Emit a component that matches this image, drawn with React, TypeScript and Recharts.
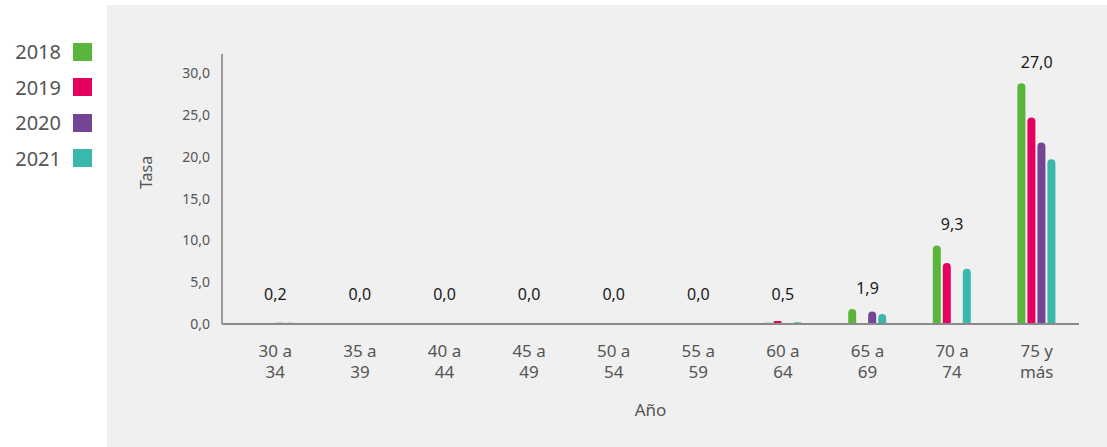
import { ComposedChart, Bar, Line, XAxis, YAxis, LabelList } from "recharts";

const categories = ["30 a 34", "35 a 39", "40 a 44", "45 a 49", "50 a 54", "55 a 59", "60 a 64", "65 a 69", "70 a 74", "75 y más"];
const s2018 = [0, 0, 0, 0, 0, 0, 0.15, 1.8, 9.4, 28.8];
const s2019 = [0, 0, 0, 0, 0, 0, 0.35, 0, 7.3, 24.7];
const s2020 = [0.15, 0, 0, 0, 0, 0, 0, 1.5, 0, 21.7];
const s2021 = [0.15, 0, 0, 0, 0, 0, 0.2, 1.2, 6.6, 19.7];
const groupLabels = ["0,2", "0,0", "0,0", "0,0", "0,0", "0,0", "0,5", "1,9", "9,3", "27,0"];
const yTicks = [0, 5, 10, 15, 20, 25, 30];

const series = [
  { key: "y2018", name: "2018", color: "#5ab53c" },
  { key: "y2019", name: "2019", color: "#e5005f" },
  { key: "y2020", name: "2020", color: "#744595" },
  { key: "y2021", name: "2021", color: "#3bb8ad" },
];

const data = categories.map((c, i) => ({
  name: c,
  y2018: s2018[i],
  y2019: s2019[i],
  y2020: s2020[i],
  y2021: s2021[i],
  // top of the tallest bar, used to place the group label
  top: Math.max(s2018[i], s2019[i], s2020[i], s2021[i]),
}));

const FONT = "'Noto Sans', sans-serif";
const BAR = 8;
const GAP = 2;

// two-line category tick: "30 a" / "34"
const CatTick = (props: any) => {
  const { x, y, payload } = props;
  const words = String(payload.value).split(" ");
  const first = words.slice(0, 2).join(" ");
  const second = words.slice(2).join(" ");
  return (
    <g>
      <text x={x} y={y + 25} textAnchor="middle" fill="#555" fontSize={17} fontFamily={FONT}>
        {first}
      </text>
      <text x={x} y={y + 46} textAnchor="middle" fill="#555" fontSize={17} fontFamily={FONT}>
        {second}
      </text>
    </g>
  );
};

// group value label above the group centre
const GroupLabel = (props: any) => {
  const { x, y, index } = props;
  const ty = Math.min(Number(y) - 15, 295);
  return (
    <text x={x} y={ty} textAnchor="middle" fill="#1a1a1a" fontSize={16} fontFamily={FONT}>
      {groupLabels[index]}
    </text>
  );
};

export default function App() {
  return (
    <div style={{ position: "absolute", left: 0, top: 0, width: 1107, height: 447, background: "#fff", fontFamily: FONT }}>
      <div style={{ position: "absolute", left: 107, top: 5, width: 1000, height: 442, background: "#f0f0f0" }} />
      {series.map((s, i) => (
        <div
          key={s.key}
          style={{ position: "absolute", left: 8, top: 38 + i * 35.5, display: "flex", alignItems: "center", gap: 12 }}
        >
          <span style={{ fontSize: 20, color: "#555", width: 53, textAlign: "right" }}>{s.name}</span>
          <span style={{ width: 19, height: 18, background: s.color, display: "inline-block" }} />
        </div>
      ))}
      <div style={{ position: "absolute", left: 107, top: 5 }}>
        <ComposedChart
          width={1000}
          height={442}
          data={data}
          margin={{ top: 49, right: 28, left: 55, bottom: 63 }}
          barSize={BAR}
          barGap={GAP}
        >
          <XAxis
            dataKey="name"
            height={60}
            tick={<CatTick />}
            tickLine={false}
            interval={0}
            padding={{ left: 11, right: 0 }}
            axisLine={{ stroke: "#8a8a8a", strokeWidth: 2 }}
            label={{ value: "Año", position: "insideBottom", offset: -32, fill: "#555", fontSize: 17, fontFamily: FONT }}
          />
          <YAxis
            width={60}
            domain={[0, 32.3]}
            ticks={yTicks}
            tickLine={false}
            tickMargin={6}
            tick={{ fill: "#555", fontSize: 14, fontFamily: FONT }}
            tickFormatter={(v: number) => v.toFixed(1).replace(".", ",")}
            axisLine={{ stroke: "#9a9a9a", strokeWidth: 2 }}
            allowDataOverflow
            label={{ value: "Tasa", angle: -90, position: "insideLeft", offset: -16, fill: "#555", fontSize: 16, fontFamily: FONT }}
          />
          {series.map((s) => (
            <Bar key={s.key} dataKey={s.key} name={s.name} fill={s.color} radius={[4, 4, 0, 0]} isAnimationActive={false} />
          ))}
          <Line dataKey="top" stroke="none" dot={false} activeDot={false} isAnimationActive={false}>
            <LabelList dataKey="top" content={<GroupLabel />} />
          </Line>
        </ComposedChart>
      </div>
    </div>
  );
}
